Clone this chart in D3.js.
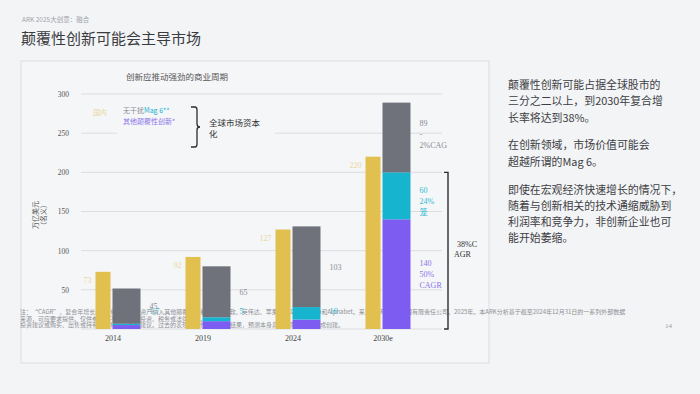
<!DOCTYPE html>
<html>
<head>
<meta charset="utf-8">
<script src="https://cdn.jsdelivr.net/npm/d3@7"></script>
<style>
  body { margin: 0; background: #f3f4f6; }
  svg { display: block; }
  text { font-family: "Liberation Serif", "Noto Sans CJK SC", serif; }
  .cjk { font-family: "Noto Sans CJK SC", sans-serif; }
</style>
</head>
<body>
<svg width="700" height="394"></svg>
<script>
// chart data
var years = ["2014", "2019", "2024", "2030e"];
var domestic = [73, 92, 127, 220];
var otherDisruptive = [5, 10, 12, 140];
var mag6 = [1.7, 5, 16, 60];
var exMag6 = [45, 65, 103, 89];
var yTicks = [0, 50, 100, 150, 200, 250, 300];

// bar labels (lines of text per bar)
var domesticLabels = [["73"], ["92"], ["127"], ["220"]];
var exMagLabels = [["45"], ["65"], ["103"], ["89", "-", "2%CAG"]];
var mag6Labels = [["1.7"], ["5"], ["16"], ["60", "24%", "笼"]];
var otherLabels = [[], [], [], ["140", "50%", "CAGR"]];

var colors = {dom: "#e2c04f", ex: "#6f717b", mag: "#17b4cf", other: "#7d5cf2"};
var labelColors = {dom: "#e9d8a0", ex: "#8a8b92", mag: "#2fbad2", other: "#8c74ea"};

var svg = d3.select("svg");

// page header
svg.append("text").attr("class", "cjk").attr("x", 22).attr("y", 22)
  .attr("font-size", 6.5).attr("fill", "#a0a2a8").text("ARK 2025大创意：融合");
svg.append("text").attr("class", "cjk").attr("x", 21).attr("y", 44)
  .attr("font-size", 15).attr("fill", "#3a3b40").text("颠覆性创新可能会主导市场");

// chart panel
svg.append("rect").attr("x", 21).attr("y", 61).attr("width", 468).attr("height", 302)
  .attr("fill", "#f5f6f8").attr("stroke", "#e0e1e4").attr("stroke-width", 1.2);

svg.append("text").attr("class", "cjk").attr("x", 177).attr("y", 80)
  .attr("text-anchor", "middle").attr("font-size", 8.5).attr("fill", "#555")
  .text("创新应推动强劲的商业周期");

var x = d3.scaleBand().domain(years).range([73, 433]).paddingInner(0.5).paddingOuter(0.25);
var y = d3.scaleLinear().domain([0, 300]).range([329, 94]);

// grid + y ticks
svg.append("g").selectAll("line").data(yTicks).enter().append("line")
  .attr("x1", 81).attr("x2", 442)
  .attr("y1", function(d){ return y(d); }).attr("y2", function(d){ return y(d); })
  .attr("stroke", "#dcdde1").attr("stroke-width", 1);

var yAxis = d3.axisLeft(y).tickValues(yTicks.slice(1)).tickSize(0).tickPadding(0);
var ya = svg.append("g").attr("transform", "translate(69,0)").call(yAxis);
ya.select(".domain").remove();
ya.selectAll("text").attr("font-size", 7.5).attr("fill", "#555")
  .attr("font-family", "Liberation Serif, serif");

// y axis title, reads bottom to top
svg.append("text").attr("class", "cjk").attr("font-size", 7).attr("fill", "#555")
  .attr("text-anchor", "middle")
  .attr("transform", "translate(38,215) rotate(-90)").text("万亿美元");
svg.append("text").attr("class", "cjk").attr("font-size", 7).attr("fill", "#555")
  .attr("text-anchor", "middle")
  .attr("transform", "translate(46,215) rotate(-90)").text("（名义）");

// footnote (sits under the bars)
var foot = [
  "注：“CAGR”，复合年增长率。*包括将加密资产纳入其他颠覆性创新中。**微软、英伟达、苹果、亚马逊、Meta和Alphabet。来源：ARK投资管理有限责任公司，2025年。本ARK分析基于截至2024年12月31日的一系列外部数据",
  "来源，可应要求提供。仅供参考，不应被视为投资、税务或法律建议。",
  "投资建议或购买、出售或持有任何特定证券的建议。过去的表现并不代表未来的结果，预测本身具有局限性，不构成创建。"
];
svg.append("g").selectAll("text").data(foot).enter().append("text")
  .attr("class", "cjk").attr("x", 20).attr("y", function(d, i){ return 314 + i * 6.5; })
  .attr("font-size", 6).attr("fill", "#8d8f95").text(function(d){ return d; });

// legend area (hides the gridline behind it)
svg.append("rect").attr("x", 117).attr("y", 126).attr("width", 158).attr("height", 12)
  .attr("fill", "#f5f6f8");
svg.append("text").attr("class", "cjk").attr("x", 93).attr("y", 115)
  .attr("font-size", 7).attr("fill", labelColors.dom).text("国内");
var lg = svg.append("text").attr("class", "cjk").attr("x", 123).attr("y", 113)
  .attr("font-size", 7);
lg.append("tspan").attr("fill", "#8a8b92").text("无干扰");
lg.append("tspan").attr("fill", colors.mag).text("Mag 6**");
svg.append("text").attr("class", "cjk").attr("x", 123).attr("y", 124)
  .attr("font-size", 7).attr("fill", labelColors.other).text("其他颠覆性创新*");
svg.append("path")
  .attr("d", "M191,107 L195,107 Q197,107 197,110 L197,124 Q197,127 200,127 Q197,127 197,130 L197,144 Q197,147 195,147 L191,147")
  .attr("fill", "none").attr("stroke", "#2b2d33").attr("stroke-width", 1.3);
svg.append("text").attr("class", "cjk").attr("x", 209).attr("y", 126)
  .attr("font-size", 8.5).attr("fill", "#333").text("全球市场资本");
svg.append("text").attr("class", "cjk").attr("x", 209).attr("y", 137)
  .attr("font-size", 8.5).attr("fill", "#333").text("化");

// bars
var bw = x.bandwidth();
var domW = bw / 3;
var stackX = function(yr){ return x(yr) + domW + 2; };
var stackW = bw - domW - 2;

var bars = svg.append("g");
bars.selectAll(".dom").data(years).enter().append("rect")
  .attr("x", function(d){ return x(d); }).attr("width", domW)
  .attr("y", function(d, i){ return y(domestic[i]); })
  .attr("height", function(d, i){ return y(0) - y(domestic[i]); })
  .attr("fill", colors.dom);

var stackSeries = [
  {key: "other", vals: otherDisruptive, labels: otherLabels},
  {key: "mag", vals: mag6, labels: mag6Labels},
  {key: "ex", vals: exMag6, labels: exMagLabels}
];
var rows = years.map(function(yr, i){
  return {year: yr, other: otherDisruptive[i], mag: mag6[i], ex: exMag6[i]};
});
var stacked = d3.stack().keys(["other", "mag", "ex"])(rows);

stacked.forEach(function(layer, li){
  var key = layer.key;
  bars.selectAll(".s" + key).data(layer).enter().append("rect")
    .attr("x", function(d){ return stackX(d.data.year); }).attr("width", stackW)
    .attr("y", function(d){ return y(d[1]); })
    .attr("height", function(d){ return y(d[0]) - y(d[1]); })
    .attr("fill", colors[key]);
});

// labels
var lineH = 11;
function multiLabel(g, lines, lx, cy, color, anchor){
  var t = g.append("text").attr("font-size", 8).attr("fill", color)
    .attr("text-anchor", anchor || "start");
  var top = cy - (lines.length - 1) * lineH / 2 + 3;
  lines.forEach(function(s, k){
    t.append("tspan").attr("x", lx).attr("y", top + k * lineH).text(s);
  });
}
var lab = svg.append("g");
years.forEach(function(yr, i){
  multiLabel(lab, domesticLabels[i], x(yr) - 4, y(domestic[i]) + 8, labelColors.dom, "end");
});
stacked.forEach(function(layer, li){
  var labels = stackSeries[li].labels;
  layer.forEach(function(d, i){
    if (!labels[i].length) return;
    var cy = (y(d[0]) + y(d[1])) / 2;
    if (layer.key === "mag") cy = Math.min(cy, 311);
    if (layer.key === "mag" && i === 3) cy += 5;
    if (layer.key === "ex" && i === 3) cy -= 3;
    multiLabel(lab, labels[i], stackX(d.data.year) + stackW + 9, cy,
      labelColors[layer.key]);
  });
});

// 38% CAGR bracket
var bx = 448;
svg.append("path")
  .attr("d", "M" + (bx - 4) + "," + y(mag6[3] + otherDisruptive[3]) + " L" + bx + "," + y(mag6[3] + otherDisruptive[3]) +
    " L" + bx + "," + y(0) + " L" + (bx - 4) + "," + y(0))
  .attr("fill", "none").attr("stroke", "#2b2d33").attr("stroke-width", 1.4);
svg.append("text").attr("x", 457).attr("y", 247).attr("font-size", 8).attr("fill", "#333").text("38%C");
svg.append("text").attr("x", 454).attr("y", 257).attr("font-size", 8).attr("fill", "#333").text("AGR");

// x axis labels
var xAxis = d3.axisBottom(x).tickSize(0).tickPadding(0);
var xa = svg.append("g").attr("transform", "translate(0,335)").call(xAxis);
xa.select(".domain").remove();
xa.selectAll("text").attr("font-size", 8).attr("fill", "#444")
  .attr("font-family", "Liberation Serif, serif")
  .attr("dx", -5);

// right text block
var paras = [
  ["颠覆性创新可能占据全球股市的", "三分之二以上，到2030年复合增", "长率将达到38%。"],
  ["在创新领域，市场价值可能会", "超越所谓的Mag 6。"],
  ["即使在宏观经济快速增长的情况下，", "随着与创新相关的技术通缩威胁到", "利润率和竞争力，非创新企业也可", "能开始萎缩。"]
];
var ty = 89;
paras.forEach(function(p){
  p.forEach(function(line){
    svg.append("text").attr("class", "cjk").attr("x", 508).attr("y", ty)
      .attr("font-size", 10.9).attr("fill", "#3d3e44").text(line);
    ty += 16.3;
  });
  ty += 11.5;
});

svg.append("text").attr("x", 665).attr("y", 328).attr("font-size", 7)
  .attr("fill", "#999").text("14");
</script>
</body>
</html>
